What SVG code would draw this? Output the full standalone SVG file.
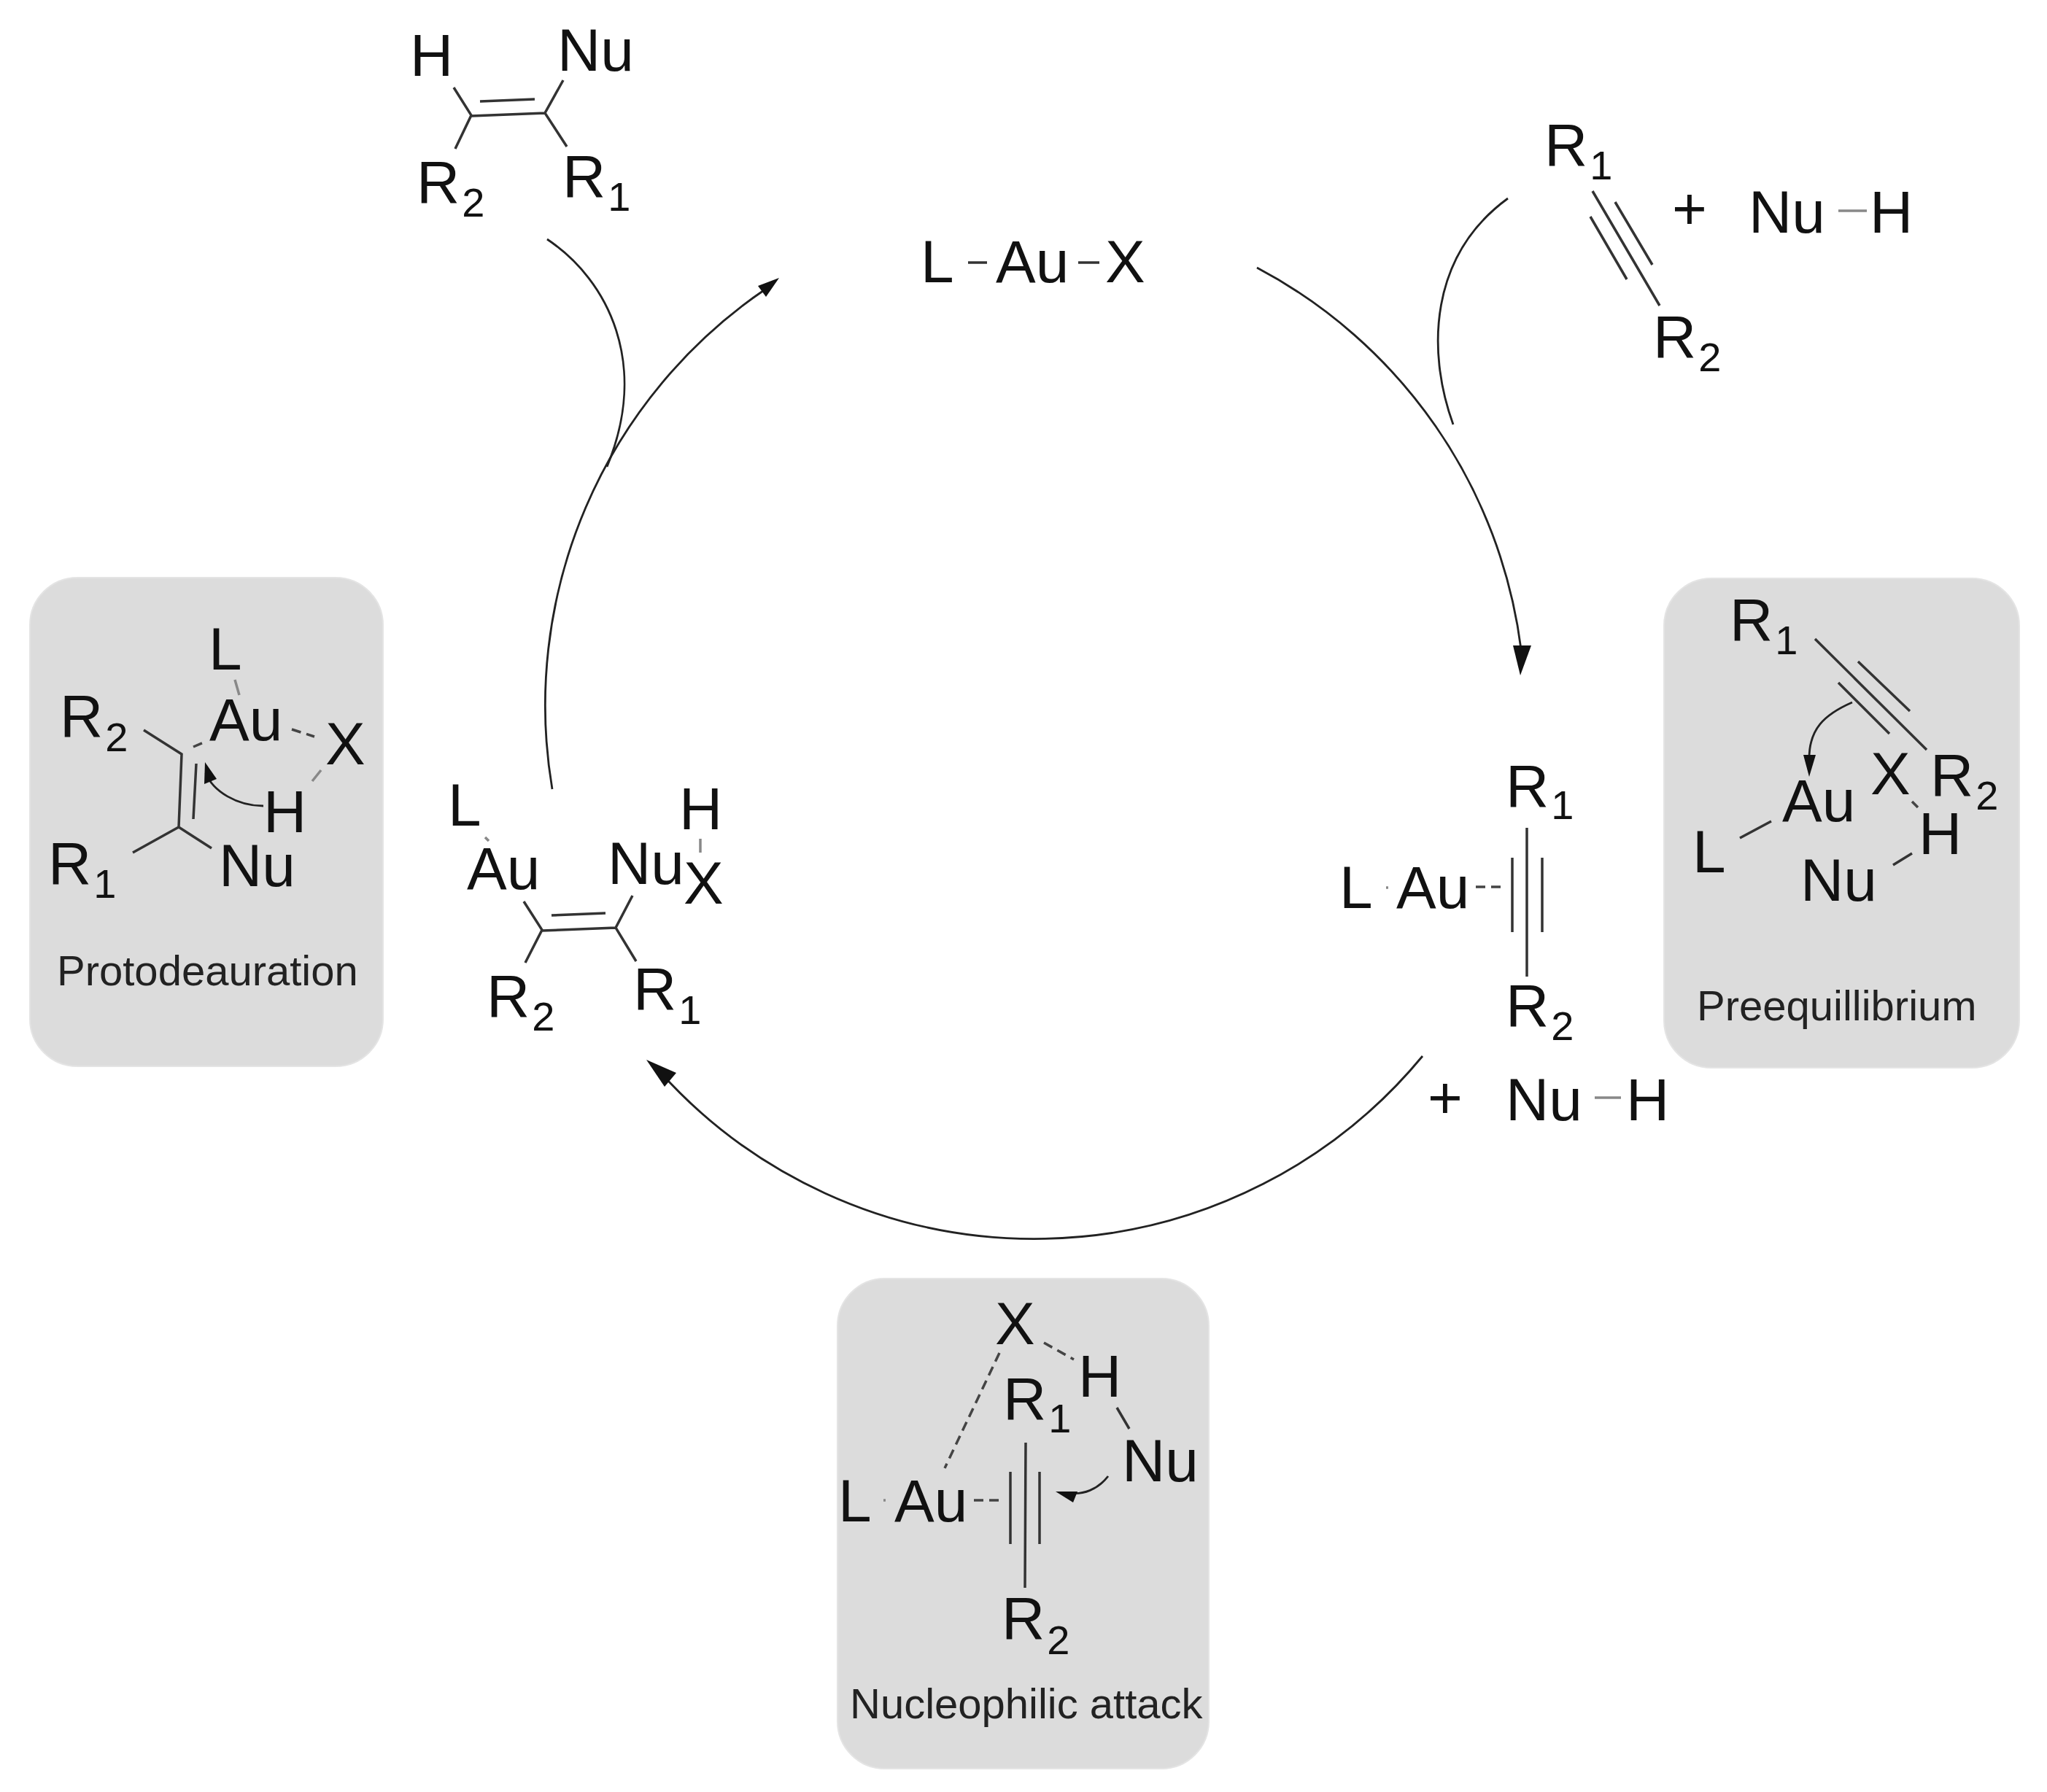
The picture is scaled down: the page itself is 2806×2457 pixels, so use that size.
<svg xmlns="http://www.w3.org/2000/svg" width="2806" height="2457" viewBox="0 0 2806 2457">
<style>
text{font-family:"Liberation Sans",Arial,sans-serif;font-size:82px;fill:#111}
text.cap{font-size:58px;fill:#222}
tspan.s{font-size:56px}
.box{fill:#dcdcdc;stroke:#e4e4e4;stroke-width:2}
.b{stroke:#333;stroke-width:3.5;fill:none}
.d{stroke:#444;stroke-width:3.5;fill:none;stroke-dasharray:13 8}
.g{stroke:#888;stroke-width:3.5;fill:none}
.arc{stroke:#222;stroke-width:2.8;fill:none}
.head{fill:#111}
</style>
<rect width="2806" height="2457" fill="#fff"/>
<g id="connectors">
<path class="arc" d="M757 1082A690 690 0 0 1 1050 396"/>
<polygon class="head" points="1068,381 1050,407 1039,392"/>
<path class="arc" d="M1723 367A690 690 0 0 1 2085 890"/>
<polygon class="head" points="2084,926 2074,885 2099,885"/>
<path class="arc" d="M1950 1448A690 690 0 0 1 905 1470"/>
<polygon class="head" points="886,1453 927,1471 911,1490"/>
<path class="arc" d="M750 328C835 385 890 500 832 640"/>
<path class="arc" d="M2067 272C1960 350 1955 480 1992 582"/>
</g>
<g id="catalyst">
<text x="1262" y="387">L</text><path class="b" d="M1327 360H1353"/>
<text x="1365" y="387">Au</text><path class="b" d="M1478 360H1507"/>
<text x="1515" y="387">X</text>
</g>
<g id="substrate">
<text x="2117" y="227">R<tspan class="s" dx="3" dy="19">1</tspan></text>
<path class="b" d="M2183 262L2275 419M2214 277L2265 363M2180 297L2230 383"/>
<text x="2316" y="314" text-anchor="middle">+</text>
<text x="2397" y="319">Nu</text><path class="g" d="M2520 289H2559"/>
<text x="2563" y="319">H</text>
<text x="2266" y="490">R<tspan class="s" dx="3" dy="19">2</tspan></text>
</g>
<g id="product">
<text x="562" y="104">H</text><text x="764" y="97">Nu</text>
<text x="571" y="278">R<tspan class="s" dx="3" dy="19">2</tspan></text>
<text x="771" y="270">R<tspan class="s" dx="3" dy="19">1</tspan></text>
<path class="b" d="M622 120L646 158L624 204M646 159L747 155M658 139L733 136M772 110L747 155L777 201"/>
</g>
<g id="alkyne-complex">
<text x="2064" y="1106">R<tspan class="s" dx="3" dy="17">1</tspan></text>
<path class="b" d="M2093 1135V1339M2073 1176V1278M2114 1176V1278"/>
<text x="1836" y="1245">L</text><path class="g" d="M1900 1217h3"/>
<text x="1914" y="1245">Au</text><path class="d" d="M2023 1216H2065"/>
<text x="2064" y="1407">R<tspan class="s" dx="3" dy="19">2</tspan></text>
<text x="1981" y="1533" text-anchor="middle">+</text>
<text x="2064" y="1536">Nu</text><path class="g" d="M2186 1505H2222"/>
<text x="2229" y="1536">H</text>
</g>
<g id="vinyl-gold">
<text x="614" y="1132">L</text><path class="g" d="M665 1148L670 1153"/>
<text x="640" y="1219">Au</text><text x="833" y="1212">Nu</text>
<text x="931" y="1137">H</text><path class="g" d="M960 1150V1169"/>
<text x="937" y="1239">X</text>
<path class="b" d="M718 1236L743 1275L720 1320M743 1276L844 1272M756 1255L830 1252M867 1228L844 1272L872 1318"/>
<text x="667" y="1394">R<tspan class="s" dx="3" dy="19">2</tspan></text>
<text x="868" y="1384">R<tspan class="s" dx="3" dy="20">1</tspan></text>
</g>
<g id="protodeauration">
<rect class="box" x="41" y="792" width="484" height="670" rx="65"/>
<text x="286" y="918">L</text><path class="g" d="M322 932L328 953"/>
<text x="287" y="1015">Au</text>
<text x="82" y="1010">R<tspan class="s" dx="3" dy="20">2</tspan></text>
<path class="b" d="M197 1001L249 1034L245 1134M269 1047L265 1123M182 1169L245 1134L290 1163"/>
<path class="d" d="M265 1024L279 1018M400 1000L431 1010"/>
<text x="446" y="1048">X</text><path class="g" d="M440 1056L428 1071"/>
<text x="361" y="1141">H</text>
<path class="arc" d="M361 1105C325 1105 292 1085 282 1060"/>
<polygon class="head" points="281,1045 297,1068 280,1075"/>
<text x="66" y="1212">R<tspan class="s" dx="3" dy="19">1</tspan></text>
<text x="300" y="1215">Nu</text>
<text class="cap" x="78" y="1351">Protodeauration</text>
</g>
<g id="preequilibrium">
<rect class="box" x="2281" y="793" width="487" height="671" rx="65"/>
<text x="2371" y="878">R<tspan class="s" dx="3" dy="19">1</tspan></text>
<path class="b" d="M2488 876L2641 1028M2547 907L2618 975M2520 936L2590 1006"/>
<path class="arc" d="M2539 963C2500 980 2480 1000 2480 1040"/>
<polygon class="head" points="2480,1065 2472,1035 2489,1035"/>
<text x="2443" y="1126">Au</text><text x="2564" y="1089">X</text>
<text x="2646" y="1091">R<tspan class="s" dx="3" dy="19">2</tspan></text>
<path class="d" d="M2621 1099L2629 1107"/>
<text x="2630" y="1171">H</text>
<path class="b" d="M2428 1126L2385 1149M2595 1186L2621 1170"/>
<text x="2320" y="1196">L</text><text x="2468" y="1235">Nu</text>
<text class="cap" x="2326" y="1399">Preequillibrium</text>
</g>
<g id="nucleophilic-attack">
<rect class="box" x="1148" y="1753" width="509" height="672" rx="65"/>
<text x="1364" y="1843">X</text>
<path class="d" d="M1370 1855L1295 2013M1431 1841L1472 1864"/>
<text x="1478" y="1915">H</text>
<text x="1375" y="1946">R<tspan class="s" dx="3" dy="18">1</tspan></text>
<path class="b" d="M1531 1930L1548 1959"/>
<text x="1538" y="2031">Nu</text>
<text x="1149" y="2086">L</text><path class="g" d="M1211 2057h3"/>
<text x="1226" y="2086">Au</text>
<path class="d" d="M1335 2057H1377"/>
<path class="b" d="M1406 1978L1405 2177M1385 2018V2117M1425 2018V2117"/>
<path class="arc" d="M1519 2024C1505 2042 1485 2050 1465 2047"/>
<polygon class="head" points="1447,2045 1477,2045 1471,2060"/>
<text x="1373" y="2247">R<tspan class="s" dx="3" dy="21">2</tspan></text>
<text class="cap" x="1165" y="2356">Nucleophilic attack</text>
</g>
</svg>
